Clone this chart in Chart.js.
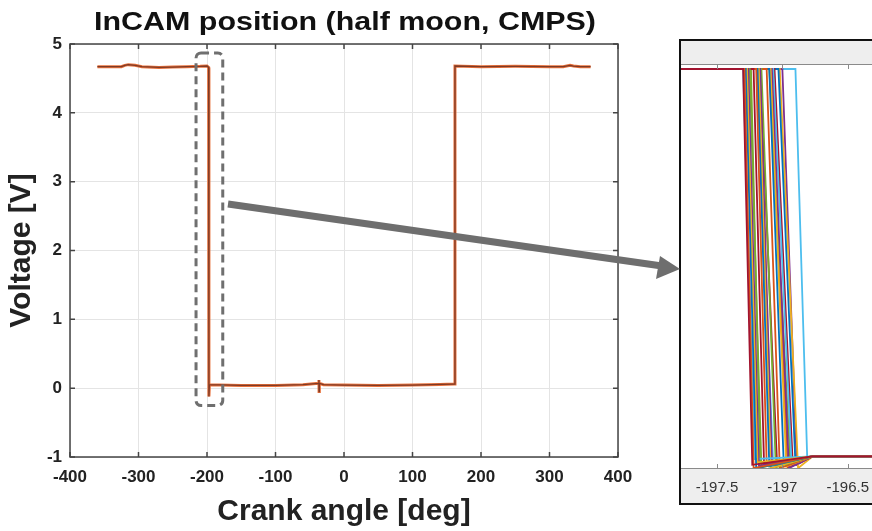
<!DOCTYPE html>
<html>
<head>
  <title>InCAM position (half moon, CMPS)</title>
  <script src="https://cdn.jsdelivr.net/npm/chart.js"></script>
  <style>
    html, body { margin: 0; padding: 0; width: 872px; height: 531px; overflow: hidden; background: #fff; }
    #mainChart { position: absolute; left: 0; top: 0; }
    #zoomWrap { position: absolute; left: 679px; top: 39px; width: 240px; height: 462px; border: 2px solid #111; }
    #zoomChart { display: block; }
    #overlay { position: absolute; left: 0; top: 0; pointer-events: none; }
  </style>
</head>
<body>
  <canvas id="mainChart" width="660" height="531"></canvas>
  <div id="zoomWrap"><canvas id="zoomChart" width="240" height="462"></canvas></div>
  <canvas id="overlay" width="872" height="531"></canvas>

  <script>
    // main trace: crank angle [deg] vs voltage [V]
    const angleDeg = [-360, -340, -325, -320, -315, -305, -295, -270, -250, -230, -210, -200, -197.6,
                      -197.2, -196.5, -150, -100, -60, -37, -36.6, -36.4, -36, -30, 0, 50, 100, 140,
                      161, 162, 200, 250, 300, 320, 330, 335, 345, 360];
    const voltage  = [4.67, 4.67, 4.67, 4.69, 4.70, 4.69, 4.67, 4.66, 4.665, 4.67, 4.675, 4.68, 4.66,
                      -0.12, 0.05, 0.04, 0.04, 0.05, 0.07, 0.12, -0.05, 0.07, 0.05, 0.045, 0.04, 0.045, 0.055,
                      0.06, 4.68, 4.67, 4.675, 4.67, 4.67, 4.69, 4.68, 4.67, 4.67];
    const xTickValues = [-400, -300, -200, -100, 0, 100, 200, 300, 400];
    const yTickValues = [-1, 0, 1, 2, 3, 4, 5];

    // zoomed falling edge, one entry per cycle
    const dropStart = [-197.30, -197.29, -197.28, -197.27, -197.26, -197.30, -197.25, -197.22, -197.20,
                       -197.19, -197.18, -197.17, -197.195, -197.16, -197.17, -197.12, -197.10, -197.09,
                       -197.08, -197.07, -197.10, -197.06, -197.09, -197.03, -197.02, -197.00, -196.90, -197.24];
    const dropEnd   = [-197.23, -197.22, -197.20, -197.19, -197.18, -197.21, -197.16, -197.14, -197.12,
                       -197.10, -197.09, -197.08, -197.07, -197.05, -197.04, -197.02, -196.99, -196.97,
                       -196.95, -196.93, -196.94, -196.92, -196.96, -196.90, -196.88, -196.89, -196.81, -197.17];
    const dropLow   = [-0.05, -0.09, -0.09, -0.02, -0.06, 0.02, -0.08, -0.04, -0.03,
                       -0.07, -0.09, -0.01, -0.05, -0.08, -0.06, -0.09, -0.02, -0.07,
                       -0.09, -0.03, 0.01, -0.06, -0.08, -0.04, -0.09, -0.05, 0.03, -0.02];
    const highLevel = 4.68;
    const lowLevel = 0.05;
    const settleAngle = -196.77;
    const zoomTickValues = [-197.5, -197, -196.5];

    const palette = ['#A2142F', '#D95319', '#0072BD', '#EDB120', '#7E2F8E', '#4DBEEE', '#77AC30'];
    Chart.defaults.font.family = 'Arial, "Liberation Sans", Helvetica, sans-serif';

    const mainPoints = angleDeg.map((a, i) => ({ x: a, y: voltage[i] }));

    // title, box, inward ticks and the dashed selection box
    const mainDecor = {
      id: 'mainDecor',
      afterDraw(chart) {
        const ctx = chart.ctx;
        const a = chart.chartArea;
        const xs = chart.scales.x, ys = chart.scales.y;
        ctx.save();
        ctx.fillStyle = '#111';
        ctx.font = 'bold 26px Arial, "Liberation Sans", sans-serif';
        ctx.textAlign = 'center';
        ctx.textBaseline = 'middle';
        ctx.translate((a.left + a.right) / 2 + 1, 23);
        ctx.scale(1.17, 1);
        ctx.fillText('InCAM position (half moon, CMPS)', 0, 0);
        ctx.restore();

        ctx.save();
        ctx.strokeStyle = '#444';
        ctx.lineWidth = 1.5;
        ctx.strokeRect(a.left, a.top, a.right - a.left, a.bottom - a.top);
        ctx.beginPath();
        xTickValues.forEach(v => {
          const px = xs.getPixelForValue(v);
          ctx.moveTo(px, a.bottom); ctx.lineTo(px, a.bottom - 5);
          ctx.moveTo(px, a.top); ctx.lineTo(px, a.top + 5);
        });
        yTickValues.forEach(v => {
          const py = ys.getPixelForValue(v);
          ctx.moveTo(a.left, py); ctx.lineTo(a.left + 5, py);
          ctx.moveTo(a.right, py); ctx.lineTo(a.right - 5, py);
        });
        ctx.stroke();

        // dashed box around the falling edge
        const l = xs.getPixelForValue(-216), r = xs.getPixelForValue(-177);
        const t = ys.getPixelForValue(4.87), b = ys.getPixelForValue(-0.25);
        const rad = 5;
        ctx.strokeStyle = '#6f6f6f';
        ctx.lineWidth = 3;
        ctx.setLineDash([8, 5]);
        ctx.beginPath();
        ctx.moveTo(l + rad, t);
        ctx.lineTo(r - rad, t); ctx.arcTo(r, t, r, t + rad, rad);
        ctx.lineTo(r, b - rad); ctx.arcTo(r, b, r - rad, b, rad);
        ctx.lineTo(l + rad, b); ctx.arcTo(l, b, l, b - rad, rad);
        ctx.lineTo(l, t + rad); ctx.arcTo(l, t, l + rad, t, rad);
        ctx.stroke();
        ctx.restore();
      }
    };

    new Chart(document.getElementById('mainChart'), {
      type: 'line',
      data: {
        datasets: [
          { data: mainPoints, borderColor: '#7e3a26', borderWidth: 1.3, pointRadius: 0, tension: 0 },
          { data: mainPoints, borderColor: '#e8703a', borderWidth: 3, pointRadius: 0, tension: 0 }
        ]
      },
      options: {
        responsive: false,
        animation: false,
        devicePixelRatio: 1,
        layout: { padding: { top: 44, right: 42, left: 0, bottom: 0 } },
        plugins: { legend: { display: false }, tooltip: { enabled: false }, title: { display: false } },
        scales: {
          x: {
            type: 'linear', min: -400, max: 400,
            afterBuildTicks(s) { s.ticks = xTickValues.map(v => ({ value: v })); },
            afterFit(s) { s.height = 74; },
            grid: { color: '#e4e4e4', drawTicks: false },
            border: { display: false },
            ticks: { padding: 10, color: '#222', font: { size: 17, weight: 'bold' }, callback: v => String(v) },
            title: { display: true, text: 'Crank angle [deg]', color: '#222',
                     font: { size: 30, weight: 'bold' }, padding: { top: 0, bottom: 1 } }
          },
          y: {
            type: 'linear', min: -1, max: 5,
            afterBuildTicks(s) { s.ticks = yTickValues.map(v => ({ value: v })); },
            afterFit(s) { s.width = 70; },
            grid: { color: '#e4e4e4', drawTicks: false },
            border: { display: false },
            ticks: { padding: 8, color: '#222', font: { size: 17, weight: 'bold' }, callback: v => String(v) },
            title: { display: true, text: 'Voltage [V]', color: '#222',
                     font: { size: 30, weight: 'bold' }, padding: { top: 4, bottom: 0 } }
          }
        }
      },
      plugins: [mainDecor]
    });

    // zoomed inset
    const zoomSets = dropStart.map((t0, i) => ({
      data: [
        { x: -197.8, y: highLevel },
        { x: t0, y: highLevel },
        { x: dropEnd[i], y: dropLow[i] },
        { x: settleAngle, y: lowLevel },
        { x: -195.9, y: lowLevel }
      ],
      borderColor: palette[i % palette.length],
      borderWidth: 1.8, pointRadius: 0, tension: 0
    }));

    const zoomFrame = {
      id: 'zoomFrame',
      beforeDraw(chart) {
        const ctx = chart.ctx, a = chart.chartArea;
        ctx.save();
        ctx.fillStyle = '#eeeeee';
        ctx.fillRect(0, 0, chart.width, chart.height);
        ctx.fillStyle = '#ffffff';
        ctx.fillRect(a.left, a.top, a.right - a.left, a.bottom - a.top);
        ctx.restore();
      },
      afterDraw(chart) {
        const ctx = chart.ctx, a = chart.chartArea, xs = chart.scales.x;
        ctx.save();
        ctx.strokeStyle = '#8a8a8a';
        ctx.lineWidth = 1;
        ctx.beginPath();
        ctx.moveTo(a.left, a.top + 0.5); ctx.lineTo(a.right, a.top + 0.5);
        ctx.moveTo(a.left, a.bottom - 0.5); ctx.lineTo(a.right, a.bottom - 0.5);
        zoomTickValues.forEach(v => {
          const px = Math.round(xs.getPixelForValue(v)) + 0.5;
          ctx.moveTo(px, a.top); ctx.lineTo(px, a.top + 5);
          ctx.moveTo(px, a.bottom); ctx.lineTo(px, a.bottom - 5);
        });
        ctx.stroke();
        ctx.restore();
      }
    };

    new Chart(document.getElementById('zoomChart'), {
      type: 'line',
      data: { datasets: zoomSets },
      options: {
        responsive: false,
        animation: false,
        devicePixelRatio: 1,
        layout: { padding: { top: 23, left: 0, right: 0, bottom: 0 } },
        plugins: { legend: { display: false }, tooltip: { enabled: false } },
        scales: {
          x: {
            type: 'linear', min: -197.775, max: -195.94,
            afterBuildTicks(s) { s.ticks = zoomTickValues.map(v => ({ value: v })); },
            afterFit(s) { s.height = 34; },
            grid: { display: false, drawTicks: false },
            border: { display: false },
            ticks: { padding: 10, color: '#333', font: { size: 15 }, callback: v => String(v) }
          },
          y: { display: false, min: -0.1, max: 4.74 }
        }
      },
      plugins: [zoomFrame]
    });

    // arrow from the dashed box to the inset
    const ov = document.getElementById('overlay').getContext('2d');
    ov.strokeStyle = '#6e6e6e';
    ov.fillStyle = '#6e6e6e';
    ov.lineWidth = 7;
    ov.beginPath();
    ov.moveTo(228, 204);
    ov.lineTo(662, 266);
    ov.stroke();
    ov.beginPath();
    ov.moveTo(680, 269);
    ov.lineTo(660, 256);
    ov.lineTo(656, 279);
    ov.closePath();
    ov.fill();
  </script>
</body>
</html>
